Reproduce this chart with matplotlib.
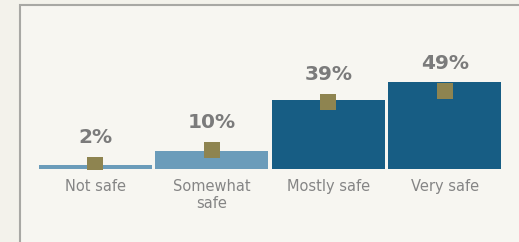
import matplotlib
matplotlib.use("Agg")
import matplotlib.pyplot as plt
from matplotlib.patches import Rectangle

# Data
categories = ["Not safe", "Somewhat\nsafe", "Mostly safe", "Very safe"]
bar_values = [2, 10, 39, 49]
marker_values = [2, 11, 38, 44]
value_labels = ["2%", "10%", "39%", "49%"]
bar_colors = ["#6b9cba", "#6b9cba", "#175d84", "#175d84"]

W, H = 519, 242
fig = plt.figure(figsize=(W / 100, H / 100), dpi=100)
fig.patch.set_facecolor("#f3f2eb")

# panel with grey border on top and left (drawn behind the axes)
panel = Rectangle((20 / W, -0.1), 1.0, 1 - 5 / H + 0.1, transform=fig.transFigure,
                  facecolor="#f7f6f1", edgecolor="#a8a8a4", linewidth=1.5, zorder=-1)
fig.patches.append(panel)

ax = fig.add_axes([37 / W, 73 / H, 466 / W, 106 / H])
ax.set_facecolor("none")
x = list(range(len(categories)))
ax.bar(x, bar_values, width=0.97, color=bar_colors, linewidth=0)
ax.plot(x, marker_values, linestyle="none", marker="s", markersize=11.5,
        markeredgewidth=0, color="#8e8450")

for xi, mv, lab in zip(x, marker_values, value_labels):
    ax.annotate(lab, (xi, mv), xytext=(0, 13), textcoords="offset points",
                ha="center", va="bottom", fontsize=14.5, fontweight="bold",
                color="#7b7b7b")

ax.set_xlim(-0.5, 3.5)
ax.set_ylim(0, 60)
ax.set_xticks(x)
ax.set_xticklabels(categories, fontsize=10.5, color="#858585", linespacing=1.15)
ax.tick_params(axis="x", length=0, pad=7)
ax.set_yticks([])
for s in ax.spines.values():
    s.set_visible(False)

fig.savefig("out.png", dpi=100, facecolor=fig.get_facecolor())
